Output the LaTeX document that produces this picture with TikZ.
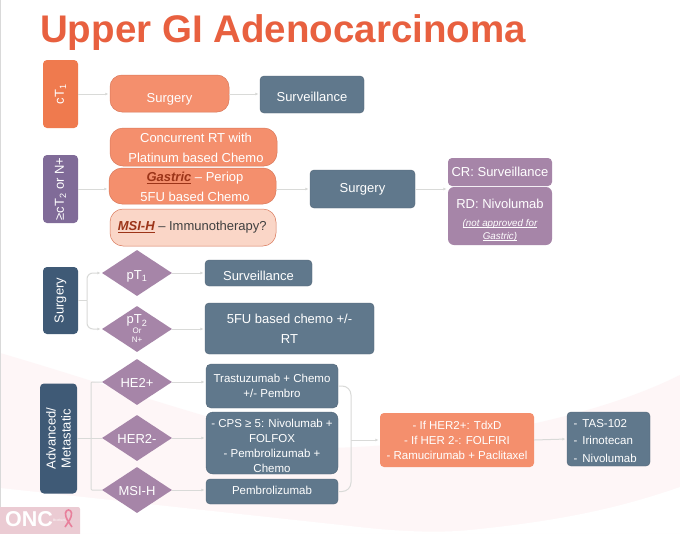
\documentclass[tikz,border=0pt]{standalone}
\usepackage{fontspec}
\setmainfont{Liberation Sans}
\usetikzlibrary{shapes.geometric,arrows.meta}
\definecolor{ctorange}{HTML}{EF7A4E}
\definecolor{titlered}{HTML}{E8603F}
\definecolor{softorange}{HTML}{F48F6D}
\definecolor{paleorange}{HTML}{FAD6C7}
\definecolor{edgeorange}{HTML}{D9785A}
\definecolor{slate}{HTML}{60788C}
\definecolor{navy}{HTML}{3F5A76}
\definecolor{plum}{HTML}{A685A8}
\definecolor{grape}{HTML}{806B98}
\definecolor{wire}{HTML}{D9DAD8}
\definecolor{rust}{HTML}{9C3418}
\definecolor{blush}{HTML}{FEF6F7}
\definecolor{logopink}{HTML}{EBCBD3}
\definecolor{ribbon}{HTML}{E8809C}
\tikzset{
  x=1pt,y=-1pt,
  card/.style={rounded corners=4pt,text=white,align=center,inner sep=0pt,font=\fontsize{13}{20}\selectfont},
  steel/.style={card,fill=slate,draw=slate!85!black,line width=.4pt},
  steelsmall/.style={steel,font=\fontsize{11.5}{15}\selectfont},
  sidebox/.style={card,font=\fontsize{13}{15}\selectfont},
  pill/.style={card,rounded corners=13pt,fill=softorange,draw=edgeorange,line width=.5pt},
  gem/.style={diamond,aspect=1.55,fill=plum,text=white,align=center,inner sep=0pt,minimum width=70pt,minimum height=46pt,font=\fontsize{13}{15}\selectfont},
  link/.style={wire,line width=1pt,shorten >=1.5pt,-{Latex[length=3pt,width=3pt]}},
  plainlink/.style={wire,line width=1pt},
}
% Places a box from its left, top, right and bottom edges
\newcommand{\boxat}[7]{\pgfmathsetmacro{\bw}{#5-#3}\pgfmathsetmacro{\bh}{#6-#4}%
  \node[#1,minimum width=\bw pt,minimum height=\bh pt] (#2) at ({(#3+#5)/2},{(#4+#6)/2}) {#7};}
\newcommand{\rusttag}[1]{\textcolor{rust}{\textbf{\textit{\underline{#1}}}}}
\newcommand{\smallnote}[1]{{\fontsize{9.8}{12.5}\selectfont\textit{\underline{\smash{#1}}}}}
% Moves a line of text up or down without changing the height of its box
\newcommand{\nudge}[2]{\raisebox{#1}[\height][\depth]{#2}}
\begin{document}
\begin{tikzpicture}
\useasboundingbox (0,0) rectangle (680,533);
\fill[white] (0,0) rectangle (680,533);
% Pale swoosh behind the lower part of the slide
\fill[blush] (0,353) .. controls (110,385) and (220,425) .. (330,448)
  .. controls (450,445) and (590,420) .. (680,375) -- (680,533) -- (0,533) -- cycle;
\fill[white] (0,488) -- (157,505) -- (350,526) .. controls (400,532) and (440,533) .. (470,530)
  .. controls (560,521) and (620,508) .. (680,487) -- (680,533) -- (0,533) -- cycle;
\draw[black!15,line width=.8pt] (.5,0) -- (.5,533);

\node[anchor=west,inner sep=0pt,text=titlered,font=\bfseries\fontsize{38.5}{40}\selectfont] (title) at (40,33) {Upper GI Adenocarcinoma};

% Early disease
\boxat{sidebox,fill=ctorange}{ct1}{43}{60}{78}{128}{\rotatebox{90}{cT\textsubscript{1}}}
\boxat{pill,rounded corners=12pt}{surg1}{110}{75}{229}{112}{\nudge{-6pt}{Surgery}}
\boxat{steel}{surv1}{260}{76}{364}{113}{\nudge{-2pt}{Surveillance}}

% Locally advanced disease
\boxat{sidebox,fill=grape}{ct2}{43}{155}{78}{223}{\rotatebox{90}{≥cT\textsubscript{2} or N+}}
\boxat{pill}{conc}{110}{128}{277}{166}{\hspace*{5pt}\nudge{-1pt}{Concurrent RT with}\\\hspace*{5pt}\nudge{-1pt}{Platinum based Chemo}}
\boxat{pill}{gast}{109}{168}{276}{204}{\hspace*{5pt}\nudge{-1pt}{\rusttag{Gastric} – Periop}\\\hspace*{5pt}\nudge{-1pt}{5FU based Chemo}}
\boxat{pill,fill=paleorange,text=black!75}{msi1}{110}{209}{276}{246}{\rusttag{MSI-H} – Immunotherapy?\hspace*{1.5pt}}
\boxat{steel}{surg2}{310}{170}{415}{208}{Surgery}
\boxat{card,fill=plum}{cr}{448}{158}{552}{186}{CR: Surveillance}
\boxat{card,fill=plum,rounded corners=6pt}{rd}{448}{187}{552}{245}{\nudge{-4pt}{RD: Nivolumab}\\[-2pt]\nudge{-4pt}{\smallnote{(not approved for}}\\[-7pt]\nudge{-4pt}{\smallnote{Gastric)}}}

% After resection
\boxat{sidebox,fill=navy}{surg3}{43}{267}{78}{334}{\rotatebox{90}{Surgery}}
\node[gem] (pt1) at (137,273) {\nudge{-3pt}{pT\textsubscript{1}}};
\node[gem,font=\fontsize{13}{9}\selectfont] (pt2) at (137,329) {\raisebox{1pt}{pT\textsubscript{2}}\\{\fontsize{8}{9}\selectfont Or}\\{\fontsize{8}{9}\selectfont N+}};
\boxat{steel}{surv2}{205}{260}{312}{286}{\nudge{-3pt}{Surveillance}}
\boxat{steel}{chemo}{205}{303}{374}{354}{5FU based chemo +/-\\RT}

% Advanced or metastatic disease
\boxat{sidebox,fill=navy}{adv}{40}{385}{77}{492}{\rotatebox{90}{\parbox{110pt}{\centering Advanced/\\Metastatic}}}
\node[gem] (he2) at (137,382) {\nudge{-1pt}{HE2+}};
\node[gem] (her2) at (137,438) {\nudge{-1pt}{HER2-}};
\node[gem] (msi2) at (137,490) {\nudge{-1pt}{MSI-H}};
\boxat{steelsmall,rounded corners=5pt}{tras}{206}{364}{338}{408}{Trastuzumab + Chemo\\+/- Pembro}
\boxat{steelsmall,rounded corners=7pt}{cps}{206}{412}{338}{474}{\nudge{-3pt}{- CPS ≥ 5: Nivolumab +}\\\nudge{-3pt}{FOLFOX}\\\nudge{-3pt}{- Pembrolizumab +}\\\nudge{-3pt}{Chemo}}
\boxat{steelsmall}{pem}{206}{479}{338}{504}{\nudge{1pt}{Pembrolizumab}}
\boxat{card,fill=softorange,font=\fontsize{11.5}{15}\selectfont}{second}{380}{413}{534}{467}{- If HER2+: TdxD\\- If HER 2-: FOLFIRI\\- Ramucirumab + Paclitaxel}
\boxat{steel,font=\fontsize{11.5}{17.5}\selectfont}{third}{567}{412}{650}{466}{\parbox{70pt}{\raggedright \nudge{-2pt}{- \,TAS-102}\\\nudge{-2pt}{- \,Irinotecan}\\\nudge{-2pt}{- \,Nivolumab}}}

% Connectors
\coordinate (a1) at (78,94);
\coordinate (a2) at (78,189);
\draw[link] (a1) -- (a1 -| surg1.west);
\draw[link] (surg1.east |- a1) -- (a1 -| surv1.west);
\draw[link] (a2) -- (a2 -| gast.west);
\draw[link] (gast.east |- a2) -- (a2 -| surg2.west);
\draw[link] (surg2.east) -- (surg2.east -| rd.west);

% Branching out of the resection box
\coordinate (x1) at (87,0);
\coordinate (j1) at (x1 |- surg3.east);
\draw[plainlink] (surg3.east) -- (j1);
\draw[link,rounded corners=6pt] (j1) |- (pt1.west);
\draw[link,rounded corners=6pt] (j1) |- (pt2.west);
\draw[link] (pt1.east) -- (pt1 -| surv2.west);
\draw[link] (pt2.east) -- (pt2 -| chemo.west);

% Branching out of the advanced disease box
\coordinate (x2) at (91,0);
\coordinate (j2) at (x2 |- her2.west);
\draw[plainlink] (adv.east |- her2) -- (her2.west);
\draw[plainlink,rounded corners=1pt] (he2.west) -| (j2) |- (msi2.west);
\draw[link] (he2.east) -- (he2 -| tras.west);
\draw[link] (her2.east) -- (her2 -| cps.west);
\draw[link] (msi2.east) -- (msi2 -| pem.west);

% Lines of therapy joined into the next one
\coordinate (x3) at (351,0);
\coordinate (j3) at (x3 |- second.west);
\draw[plainlink,rounded corners=9pt] (tras.east) -| (j3) |- (pem.east);
\draw[link] (j3) -- (second.west);
\draw[link] (second.east) -- (third.west);

% Corner badge
\fill[logopink,rounded corners=2pt] (-3,507) rectangle (80,536);
\node[anchor=west,inner sep=0pt,text=white,font=\bfseries\fontsize{21.5}{22}\selectfont] (onc) at (5,519.5) {ONC};
\node[anchor=west,inner sep=0pt,text=white,font=\fontsize{3.3}{4}\selectfont] (bro) at (53,520) {Brothers};
\draw[ribbon,line width=1.6pt] (65,527) .. controls (68,522) and (72,518) .. (71.5,513)
  .. controls (71,509) and (66,509) .. (65.5,513) .. controls (65,518) and (69,522) .. (72,527);
\end{tikzpicture}
\end{document}
